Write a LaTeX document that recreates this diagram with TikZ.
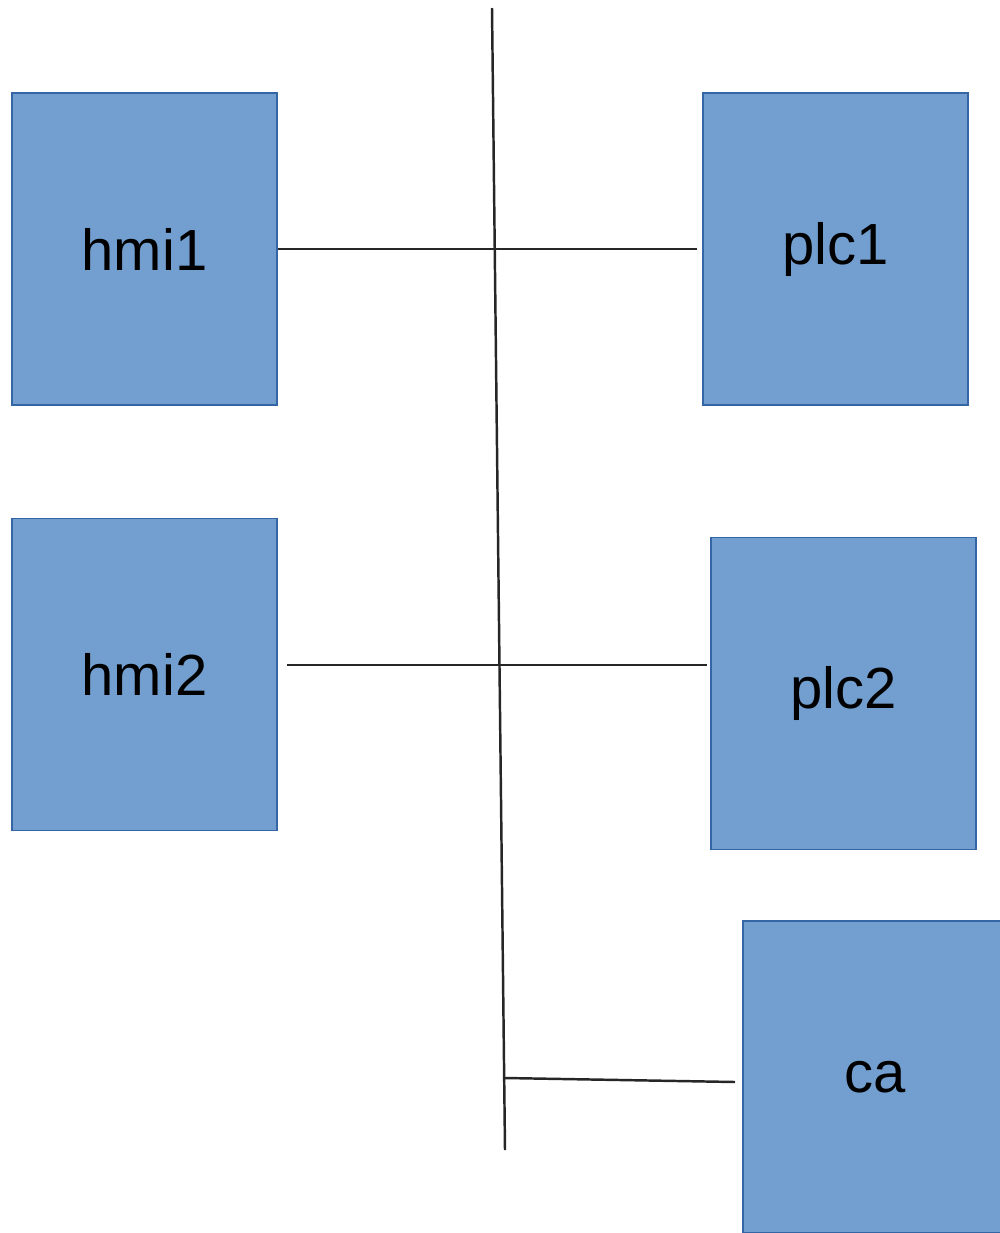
\documentclass[tikz,border=0pt]{standalone}
\usepackage{fontspec}
\setmainfont{Liberation Sans}
\definecolor{boxfill}{HTML}{729FCF}
\definecolor{boxline}{HTML}{3465A4}
\begin{document}
\begin{tikzpicture}[x=0.01cm,y=-0.01cm,
  device/.style={draw=boxline,line width=0.5pt,fill=boxfill,
    minimum width=2.65cm,minimum height=3.12cm,inner sep=0pt,
    font=\fontsize{16.5}{18}\selectfont},
  wire/.style={line width=0.7pt,black!85}]
  \useasboundingbox (0,0) rectangle (1000,1233);
  \begin{scope}
    \clip (0,0) rectangle (1000,1233);
    % devices
    \node[device] (hmi1) at (144.5,249) {hmi1};
    \node[device] (plc1) at (835.5,249) {plc1};
    \node[device] (hmi2) at (144.5,674.5) {hmi2};
    \node[device] (plc2) at (843.5,693.5) {plc2};
    \node[device] (ca)   at (875.5,1077) {ca};
  \end{scope}
  % shared bus line
  \coordinate (bustop) at (492,8);
  \coordinate (busbot) at (505,1150);
  \draw[wire] (bustop) -- (busbot);
  % taps onto the bus
  \coordinate (t1) at (697,249);
  \coordinate (s2) at (287,665);
  \coordinate (t2) at (707,665);
  \coordinate (s3) at (505,1078);
  \coordinate (t3) at (735,1082);
  \draw[wire] (hmi1.east |- t1) -- (t1);
  \draw[wire] (s2) -- (t2);
  \draw[wire] (s3) -- (t3);
\end{tikzpicture}
\end{document}
